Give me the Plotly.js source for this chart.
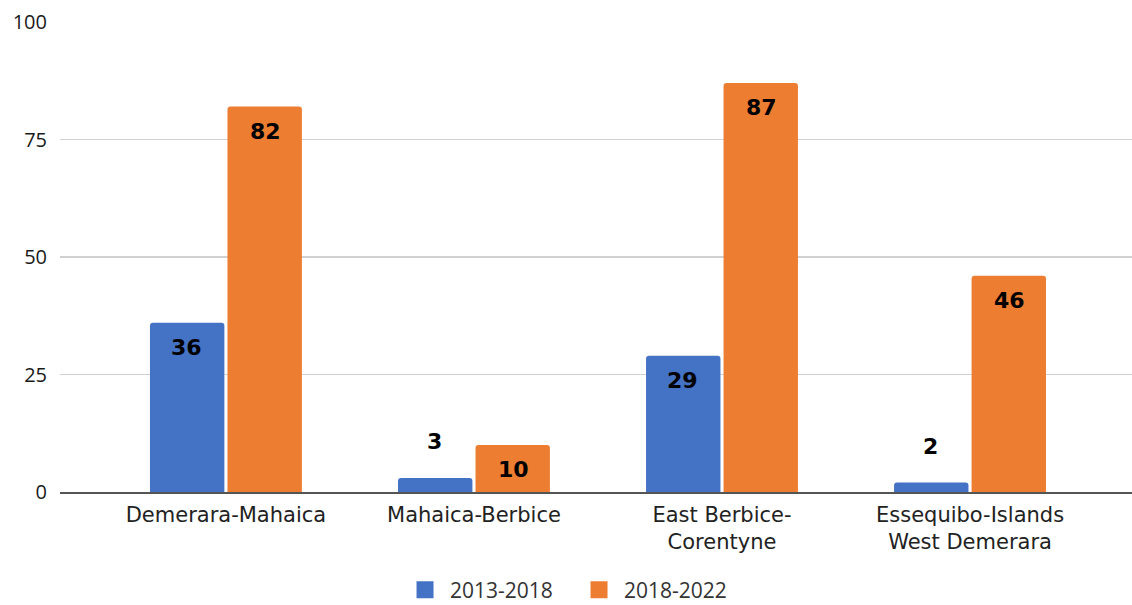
<!DOCTYPE html>
<html>
<head>
<meta charset="utf-8">
<script src="https://cdn.plot.ly/plotly-3.0.1.min.js"></script>
<style>html,body{margin:0;padding:0;background:#fff;}#chart{width:1132px;height:605px;}</style>
</head>
<body>
<div id="chart"></div>
<script>
const categories = ["Demerara-Mahaica", "Mahaica-Berbice", "East Berbice-<br>Corentyne", "Essequibo-Islands<br>West Demerara"];
const seriesNames = ["2013-2018", "2018-2022"];
const values2013 = [36, 3, 29, 2];
const values2018 = [82, 10, 87, 46];
const yTicks = [0, 25, 50, 75, 100];
const colors = ["#4472C4", "#ED7D31"];

const labelFont = {family: "DejaVu Sans", size: 22, color: "#000", weight: 900};
const smallThreshold = 5;
const groupOffset = 0.16;

function makeTrace(name, vals, color) {
  return {
    type: "bar",
    name: name,
    x: categories,
    y: vals,
    marker: {color: color},
    showlegend: false,
    hoverinfo: "none"
  };
}

function legendTrace(name, color) {
  return {
    type: "bar",
    name: name,
    x: [null],
    y: [null],
    xaxis: "x2",
    yaxis: "y2",
    marker: {color: color, cornerradius: 0, line: {color: color, width: 6}},
    showlegend: true,
    hoverinfo: "none"
  };
}

const traces = [
  makeTrace(seriesNames[0], values2013, colors[0]),
  makeTrace(seriesNames[1], values2018, colors[1]),
  legendTrace(seriesNames[0], colors[0]),
  legendTrace(seriesNames[1], colors[1])
];

const annotations = [];
[values2013, values2018].forEach((vals, si) => {
  vals.forEach((v, i) => {
    const small = v < smallThreshold;
    annotations.push({
      x: i + (si === 0 ? -groupOffset : groupOffset),
      y: v,
      xref: "x", yref: "y",
      text: "<b>" + v + "</b>",
      showarrow: false,
      yanchor: small ? "bottom" : "top",
      yshift: small ? 22 : -10,
      font: labelFont
    });
  });
});

const layout = {
  width: 1132, height: 605,
  margin: {l: 60, r: 0, t: 22, b: 113, autoexpand: false},
  paper_bgcolor: "#fff", plot_bgcolor: "#fff",
  barmode: "group",
  bargap: 0.375,
  bargroupgap: 0.04,
  barcornerradius: 3,
  font: {family: "DejaVu Sans", color: "#222"},
  xaxis: {
    type: "category",
    range: [-0.669, 3.653],
    showgrid: false,
    showline: true, linecolor: "#555", linewidth: 1.5,
    ticks: "",
    ticklabelstandoff: 3,
    tickfont: {family: "DejaVu Sans", size: 21, color: "#222"},
    automargin: false,
    fixedrange: true
  },
  yaxis: {
    range: [0, 100],
    tickvals: yTicks,
    ticktext: yTicks.map(String),
    showgrid: true, gridcolor: "#d0d0d0", gridwidth: 1.5,
    zeroline: false,
    showline: false,
    ticks: "",
    ticklabelstandoff: 12,
    tickfont: {family: "Open Sans", size: 20, color: "#1a1a1a"},
    automargin: false,
    fixedrange: true
  },
  xaxis2: {overlaying: "x", visible: false, range: [0, 1], fixedrange: true},
  yaxis2: {overlaying: "y", visible: false, range: [0, 1], fixedrange: true},
  legend: {
    orientation: "h",
    x: 0.4795, xanchor: "center",
    y: -0.2085, yanchor: "middle",
    font: {family: "Open Sans", size: 21, color: "#333"},
    itemwidth: 40,
    entrywidth: 119,
    traceorder: "normal"
  },
  annotations: annotations,
  showlegend: true
};

Plotly.newPlot("chart", traces, layout, {displayModeBar: false, staticPlot: true});
</script>
</body>
</html>
